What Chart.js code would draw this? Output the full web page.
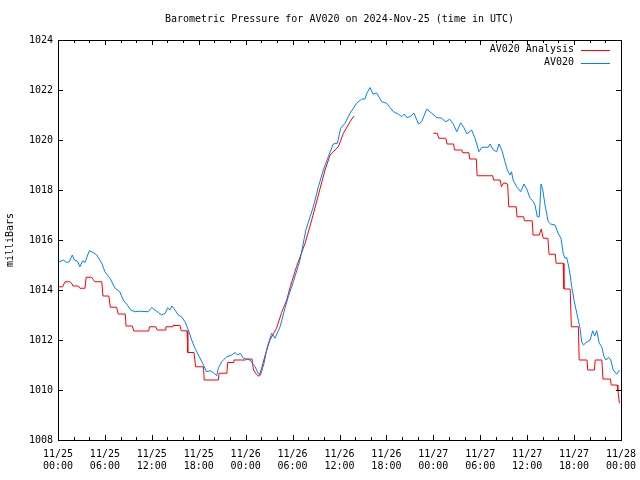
<!DOCTYPE html>
<html><head><meta charset="utf-8">
<script src="https://cdn.jsdelivr.net/npm/chart.js@4.4.1/dist/chart.umd.min.js"></script>
<style>html,body{margin:0;padding:0;background:#fff;}canvas{display:block;}</style>
</head><body>
<canvas id="c" width="640" height="480"></canvas>
<script>
const chartTitle = 'Barometric Pressure for AV020 on 2024-Nov-25 (time in UTC)';
const yAxisLabel = 'milliBars';
const seriesNames = ['AV020 Analysis', 'AV020'];
const seriesColors = ['#ff0000', '#0080ff'];
const xTickLabels = [
  ['11/25','00:00'],['11/25','06:00'],['11/25','12:00'],['11/25','18:00'],
  ['11/26','00:00'],['11/26','06:00'],['11/26','12:00'],['11/26','18:00'],
  ['11/27','00:00'],['11/27','06:00'],['11/27','12:00'],['11/27','18:00'],
  ['11/28','00:00']
];
const yMin = 1008, yMax = 1024, yStep = 2;
const hoursSpan = 72, majorStepHours = 6, minorStepHours = 2;

// AV020 Analysis (hours since 11/25 00:00 UTC, mbar); null = no data
const analysisHours = [
  0, 0.6, 0.7, 0.9, 1.5, 1.75, 1.9, 2.6, 2.8, 3.45,
  3.6, 4.3, 4.5, 4.7, 5.6, 5.75, 6.5, 6.7, 7.5, 7.7,
  8.6, 8.7, 9.5, 9.7, 11.6, 11.7, 12.5, 12.7, 13.7, 13.8,
  14.6, 14.7, 15.6, 15.75, 16.5, 16.6, 17.4, 17.6, 18.6, 18.7,
  20.5, 20.6, 21.6, 21.7, 22.4, 22.5, 24.0, 24.1, 24.8, 25.0,
  25.4, 25.7, 26.05, 26.5, 27.1, 27.95, 28.6, 29.25, 29.7, 30.5,
  31.6, 32.45, 33.3, 34.15, 34.8, 35.85, 36.5, 37.35, 37.85, 42,
  48.0, 48.5, 48.7, 49.6, 49.75, 50.6, 50.7, 51.65, 51.75, 52.55,
  52.65, 53.5, 53.6, 55.6, 55.7, 56.55, 56.7, 57.0, 57.5, 57.65,
  58.6, 58.7, 59.55, 59.65, 60.65, 60.75, 61.55, 61.8, 62.05, 62.65,
  62.8, 63.6, 63.7, 64.6, 64.7, 65.5, 65.65, 66.55, 66.65, 67.65,
  67.75, 68.6, 68.7, 69.55, 69.7, 70.65, 70.75, 71.5, 71.6, 71.8
];
const analysisValues = [
  1014.13, 1014.13, 1014.2, 1014.33, 1014.33, 1014.27, 1014.16, 1014.16, 1014.07, 1014.07,
  1014.51, 1014.51, 1014.42, 1014.33, 1014.33, 1013.76, 1013.76, 1013.31, 1013.31, 1013.04,
  1013.04, 1012.56, 1012.56, 1012.36, 1012.36, 1012.53, 1012.53, 1012.4, 1012.4, 1012.53,
  1012.53, 1012.58, 1012.58, 1012.37, 1012.37, 1011.5, 1011.5, 1010.93, 1010.93, 1010.4,
  1010.4, 1010.67, 1010.67, 1011.1, 1011.1, 1011.2, 1011.2, 1011.24, 1011.24, 1010.8,
  1010.62, 1010.55, 1010.87, 1011.4, 1012.0, 1012.47, 1013.1, 1013.6, 1014.13, 1014.93,
  1015.87, 1016.8, 1017.8, 1018.8, 1019.4, 1019.73, 1020.27, 1020.73, 1020.96, null,
  1020.27, 1020.27, 1020.07, 1020.07, 1019.84, 1019.84, 1019.6, 1019.6, 1019.49, 1019.49,
  1019.24, 1019.24, 1018.57, 1018.57, 1018.4, 1018.4, 1018.13, 1018.29, 1018.24, 1017.33,
  1017.33, 1016.93, 1016.93, 1016.77, 1016.77, 1016.2, 1016.2, 1016.44, 1016.07, 1016.07,
  1015.43, 1015.43, 1015.07, 1015.07, 1014.04, 1014.04, 1012.53, 1012.53, 1011.2, 1011.2,
  1010.8, 1010.8, 1011.2, 1011.2, 1010.44, 1010.44, 1010.2, 1010.2, 1010.0, 1009.47
];

// AV020 observed
const stationHours = [
  0, 0.68, 1.1, 1.45, 1.83, 2.1, 2.5, 2.8, 3.15, 3.45,
  4.0, 4.5, 4.95, 5.6, 6.0, 6.65, 7.3, 7.9, 8.35, 8.87,
  9.3, 9.85, 10.5, 11.55, 11.98, 12.4, 12.83, 13.26, 13.7, 14.03,
  14.3, 14.58, 14.96, 15.39, 15.8, 16.24, 16.67, 17.1, 17.52, 18.07,
  18.6, 19.0, 19.44, 19.9, 20.3, 20.5, 20.93, 21.57, 22.2, 22.64,
  23.0, 23.3, 23.7, 24.56, 25.2, 25.6, 25.9, 26.35, 26.77, 27.33,
  27.75, 28.4, 29.03, 29.45, 30.1, 30.95, 31.7, 32.65, 33.3, 33.93,
  34.57, 35.2, 35.73, 36.15, 36.7, 37.35, 38.2, 38.84, 39.26, 39.5,
  39.9, 40.3, 40.76, 41.4, 42.04, 42.46, 42.9, 43.5, 43.96, 44.3,
  44.6, 45.0, 45.53, 46.1, 46.5, 47.15, 47.8, 48.43, 49.07, 49.6,
  50.1, 50.55, 51.0, 51.5, 51.9, 52.3, 52.9, 53.33, 53.84, 54.2,
  55.03, 55.25, 55.67, 56.1, 56.4, 56.75, 57.17, 57.47, 57.8, 58.0,
  58.2, 58.66, 59.17, 59.6, 60.0, 60.37, 60.8, 61.0, 61.3, 61.55,
  61.77, 62.0, 62.28, 62.7, 63.0, 63.56, 64.0, 64.33, 64.6, 64.84,
  65.06, 65.4, 65.7, 66.03, 66.4, 66.76, 66.97, 67.2, 67.5, 68.04,
  68.38, 68.64, 68.9, 69.2, 69.53, 69.83, 70.1, 70.4, 70.7, 71.0,
  71.45, 71.8
];
const stationValues = [
  1015.1, 1015.2, 1015.1, 1015.13, 1015.4, 1015.2, 1015.15, 1014.93, 1015.17, 1015.1,
  1015.57, 1015.5, 1015.4, 1015.07, 1014.73, 1014.47, 1014.07, 1013.93, 1013.6, 1013.4,
  1013.2, 1013.13, 1013.15, 1013.13, 1013.3, 1013.2, 1013.1, 1013.0, 1013.07, 1013.29,
  1013.2, 1013.36, 1013.2, 1013.0, 1012.93, 1012.73, 1012.4, 1012.0, 1011.67, 1011.33,
  1011.0, 1010.73, 1010.77, 1010.69, 1010.57, 1010.87, 1011.13, 1011.33, 1011.4, 1011.5,
  1011.4, 1011.47, 1011.27, 1011.2, 1010.93, 1010.67, 1010.6, 1011.07, 1011.73, 1012.27,
  1012.07, 1012.53, 1013.27, 1013.73, 1014.33, 1015.2, 1016.4, 1017.33, 1018.13, 1018.8,
  1019.33, 1019.84, 1019.87, 1020.47, 1020.67, 1021.07, 1021.47, 1021.64, 1021.64, 1021.87,
  1022.1, 1021.83, 1021.88, 1021.53, 1021.47, 1021.3, 1021.13, 1021.04, 1020.93, 1021.04,
  1020.9, 1020.93, 1021.07, 1020.64, 1020.73, 1021.23, 1021.07, 1020.9, 1020.87, 1020.73,
  1020.83, 1020.64, 1020.33, 1020.69, 1020.5, 1020.24, 1020.4, 1020.07, 1019.53, 1019.71,
  1019.71, 1019.84, 1019.6, 1019.53, 1019.84, 1019.6, 1019.13, 1018.8, 1018.6, 1018.73,
  1018.4, 1018.13, 1017.93, 1018.24, 1018.0, 1017.67, 1017.53, 1017.4, 1016.93, 1016.93,
  1018.24, 1018.0, 1017.4, 1016.73, 1016.64, 1016.6, 1016.24, 1016.07, 1015.47, 1015.27,
  1015.3, 1014.8, 1014.13, 1013.53, 1013.0, 1012.47, 1011.93, 1011.8, 1011.89, 1012.0,
  1012.37, 1012.16, 1012.37, 1011.89, 1011.73, 1011.33, 1011.2, 1011.31, 1011.2, 1010.8,
  1010.63, 1010.8
];

const FONT = 'DejaVu Sans Mono';
const toPoints = (hs, vs) => hs.map((h, i) => ({ x: h, y: vs[i] }));

const framePlugin = {
  id: 'frame',
  afterDatasetsDraw(chart) {
    const { ctx, chartArea: a, scales: { x, y } } = chart;
    ctx.save();
    ctx.strokeStyle = '#000';
    ctx.lineWidth = 1;
    ctx.beginPath();
    x.ticks.forEach(t => {
      const px = Math.round(x.getPixelForValue(t.value)) + 0.5;
      const len = (t.value % majorStepHours === 0) ? 5 : 3;
      ctx.moveTo(px, a.bottom); ctx.lineTo(px, a.bottom - len);
      ctx.moveTo(px, a.top); ctx.lineTo(px, a.top + len);
    });
    y.ticks.forEach(t => {
      const py = Math.round(y.getPixelForValue(t.value)) + 0.5;
      ctx.moveTo(a.left, py); ctx.lineTo(a.left + 5, py);
      ctx.moveTo(a.right, py); ctx.lineTo(a.right - 5, py);
    });
    ctx.stroke();
    ctx.strokeRect(Math.round(a.left) + 0.5, Math.round(a.top) + 0.5,
                   Math.round(a.right - a.left), Math.round(a.bottom - a.top));
    // title
    ctx.fillStyle = '#000';
    ctx.font = '10px "' + FONT + '"';
    ctx.textAlign = 'center';
    ctx.textBaseline = 'middle';
    ctx.fillText(chartTitle, (a.left + a.right) / 2, 19);
    // legend
    ctx.textAlign = 'right';
    chart.data.datasets.forEach((ds, i) => {
      const ly = a.top + 9.5 + i * 13;
      ctx.fillStyle = '#000';
      ctx.fillText(ds.label, a.right - 47, ly);
      ctx.strokeStyle = ds.borderColor;
      ctx.beginPath();
      ctx.moveTo(a.right - 40, Math.round(ly) + 0.5);
      ctx.lineTo(a.right - 11, Math.round(ly) + 0.5);
      ctx.stroke();
    });
    ctx.restore();
  }
};

new Chart(document.getElementById('c'), {
  type: 'line',
  data: {
    datasets: [
      { label: seriesNames[0], data: toPoints(analysisHours, analysisValues),
        borderColor: seriesColors[0], borderWidth: 1, pointRadius: 0, tension: 0,
        spanGaps: false, order: 2 },
      { label: seriesNames[1], data: toPoints(stationHours, stationValues),
        borderColor: seriesColors[1], borderWidth: 1, pointRadius: 0, tension: 0,
        spanGaps: false, order: 1 }
    ]
  },
  options: {
    responsive: false,
    animation: false,
    events: [],
    layout: { padding: { top: 40, right: 19, left: 0, bottom: 0 } },
    plugins: { legend: { display: false }, title: { display: false }, tooltip: { enabled: false } },
    scales: {
      x: {
        type: 'linear', min: 0, max: hoursSpan,
        grid: { display: false, drawTicks: false },
        border: { display: false },
        afterFit: s => { s.height = 40; s.paddingLeft = 0; s.paddingRight = 0; },
        afterBuildTicks: s => {
          const t = [];
          for (let v = 0; v <= hoursSpan; v += minorStepHours) t.push({ value: v });
          s.ticks = t;
        },
        ticks: {
          autoSkip: false, maxRotation: 0, minRotation: 0, padding: 8,
          color: '#000', font: { family: FONT, size: 10 },
          callback: v => (v % majorStepHours === 0) ? xTickLabels[v / majorStepHours] : ''
        }
      },
      y: {
        type: 'linear', min: yMin, max: yMax,
        grid: { display: false, drawTicks: false },
        border: { display: false },
        afterFit: s => { s.width = 58; s.paddingTop = 0; s.paddingBottom = 0; },
        ticks: { stepSize: yStep, padding: 5, color: '#000', font: { family: FONT, size: 10 },
                 callback: v => String(v) },
        title: { display: true, text: yAxisLabel, color: '#000',
                 font: { family: FONT, size: 10 }, padding: { top: 4, bottom: 0 } }
      }
    }
  },
  plugins: [framePlugin]
});
</script>
</body></html>
